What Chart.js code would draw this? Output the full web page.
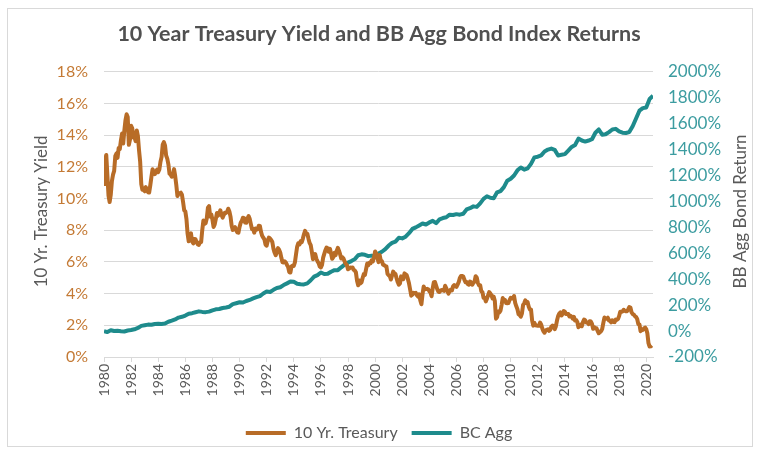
<!DOCTYPE html>
<html>
<head>
<meta charset="utf-8">
<script src="https://cdn.jsdelivr.net/npm/chart.js@4.4.1/dist/chart.umd.min.js"></script>
<style>
    html, body { margin: 0; padding: 0; background: #fff; }
    #wrap { position: relative; width: 758px; height: 451px; }
    #frame { position: absolute; left: 7px; top: 8px; width: 744px; height: 437px; border: 1px solid #d9d9d9; pointer-events: none; }
</style>
</head>
<body>
<div id="wrap">
    <canvas id="yieldChart"></canvas>
    <div id="frame"></div>
</div>
<script>
// chart text
const chartTitle = '10 Year Treasury Yield and BB Agg Bond Index Returns';
const seriesNames = ['10 Yr. Treasury', 'BC Agg'];
const leftAxisTitle = '10 Yr. Treasury Yield';
const rightAxisTitle = 'BB Agg Bond Return';

// first month of both series
const startYear = 1980;

// 10 yr treasury yield (%), monthly Jan 1980 - Jun 2020
const treasuryYield = [
    10.80, 12.41, 12.75, 11.47, 10.18, 9.78, 10.25, 11.10, 11.51, 11.75, 12.68, 12.84, // 1980
    12.57, 13.19, 13.12, 13.68, 14.10, 13.47, 14.28, 14.94, 15.32, 15.15, 13.39, 13.72, // 1981
    14.59, 14.43, 13.86, 13.87, 13.62, 14.30, 13.95, 13.06, 12.34, 10.91, 10.55, 10.54, // 1982
    10.46, 10.72, 10.51, 10.40, 10.38, 10.85, 11.38, 11.85, 11.65, 11.54, 11.69, 11.83, // 1983
    11.67, 11.84, 12.32, 12.63, 13.41, 13.56, 13.36, 12.72, 12.52, 12.16, 11.57, 11.50, // 1984
    11.38, 11.51, 11.86, 11.43, 10.85, 10.16, 10.31, 10.33, 10.37, 10.24, 9.78, 9.26,   // 1985
    9.19, 8.70, 7.78, 7.30, 7.71, 7.80, 7.30, 7.17, 7.45, 7.43, 7.25, 7.11,             // 1986
    7.08, 7.25, 7.25, 8.02, 8.61, 8.40, 8.45, 8.76, 9.42, 9.52, 8.86, 8.99,             // 1987
    8.67, 8.21, 8.37, 8.72, 9.09, 8.92, 9.06, 9.26, 8.98, 8.80, 8.96, 9.11,             // 1988
    9.09, 9.17, 9.36, 9.18, 8.86, 8.28, 8.02, 8.11, 8.19, 8.01, 7.87, 7.84,             // 1989
    8.21, 8.47, 8.59, 8.79, 8.76, 8.48, 8.47, 8.75, 8.89, 8.72, 8.39, 8.08,             // 1990
    8.09, 7.85, 8.11, 8.04, 8.07, 8.28, 8.27, 7.90, 7.65, 7.53, 7.42, 7.09,             // 1991
    7.03, 7.34, 7.54, 7.48, 7.39, 7.26, 6.84, 6.59, 6.42, 6.59, 6.87, 6.77,             // 1992
    6.60, 6.26, 5.98, 5.97, 6.04, 5.96, 5.81, 5.68, 5.36, 5.33, 5.72, 5.77,             // 1993
    5.75, 5.97, 6.48, 6.97, 7.18, 7.10, 7.30, 7.24, 7.46, 7.74, 7.96, 7.81,             // 1994
    7.78, 7.47, 7.20, 7.06, 6.63, 6.17, 6.28, 6.49, 6.20, 6.04, 5.93, 5.71,             // 1995
    5.65, 5.81, 6.27, 6.51, 6.74, 6.91, 6.87, 6.64, 6.83, 6.53, 6.20, 6.30,             // 1996
    6.58, 6.42, 6.69, 6.89, 6.71, 6.49, 6.22, 6.30, 6.21, 6.03, 5.88, 5.81,             // 1997
    5.54, 5.57, 5.65, 5.64, 5.65, 5.50, 5.46, 5.34, 4.81, 4.53, 4.83, 4.65,             // 1998
    4.72, 5.00, 5.23, 5.18, 5.54, 5.90, 5.79, 5.94, 5.92, 6.11, 6.03, 6.28,             // 1999
    6.66, 6.52, 6.26, 5.99, 6.44, 6.10, 6.05, 5.83, 5.80, 5.74, 5.72, 5.24,             // 2000
    5.16, 5.10, 4.89, 5.14, 5.39, 5.28, 5.24, 4.97, 4.73, 4.57, 4.65, 5.09,             // 2001
    5.04, 4.91, 5.28, 5.21, 5.16, 4.93, 4.65, 4.26, 3.87, 3.94, 4.05, 4.03,             // 2002
    4.05, 3.90, 3.81, 3.96, 3.57, 3.33, 3.98, 4.45, 4.27, 4.29, 4.30, 4.27,             // 2003
    4.15, 4.08, 3.83, 4.35, 4.72, 4.73, 4.50, 4.28, 4.13, 4.10, 4.19, 4.23,             // 2004
    4.22, 4.17, 4.50, 4.34, 4.14, 4.00, 4.18, 4.26, 4.20, 4.46, 4.54, 4.47,             // 2005
    4.42, 4.57, 4.72, 4.99, 5.11, 5.11, 5.09, 4.88, 4.72, 4.73, 4.60, 4.56,             // 2006
    4.76, 4.72, 4.56, 4.69, 4.75, 5.10, 5.00, 4.67, 4.52, 4.53, 4.15, 4.10,             // 2007
    3.74, 3.74, 3.51, 3.68, 3.88, 4.10, 4.01, 3.89, 3.69, 3.81, 3.53, 2.42,             // 2008
    2.52, 2.87, 2.82, 2.93, 3.29, 3.72, 3.56, 3.59, 3.40, 3.39, 3.40, 3.59,             // 2009
    3.73, 3.69, 3.73, 3.85, 3.42, 3.20, 3.01, 2.70, 2.65, 2.54, 2.76, 3.29,             // 2010
    3.39, 3.58, 3.41, 3.46, 3.17, 3.00, 3.00, 2.30, 1.98, 2.15, 2.01, 1.98,             // 2011
    1.97, 1.97, 2.17, 2.05, 1.80, 1.62, 1.53, 1.68, 1.72, 1.75, 1.65, 1.72,             // 2012
    1.91, 1.98, 1.96, 1.76, 1.93, 2.30, 2.58, 2.74, 2.81, 2.62, 2.72, 2.90,             // 2013
    2.86, 2.71, 2.72, 2.71, 2.56, 2.60, 2.54, 2.42, 2.53, 2.30, 2.33, 2.21,             // 2014
    1.88, 1.98, 2.04, 1.94, 2.20, 2.36, 2.32, 2.17, 2.17, 2.07, 2.26, 2.24,             // 2015
    2.09, 1.78, 1.89, 1.81, 1.81, 1.64, 1.50, 1.56, 1.63, 1.76, 2.14, 2.49,             // 2016
    2.43, 2.42, 2.48, 2.30, 2.30, 2.19, 2.32, 2.21, 2.20, 2.36, 2.35, 2.40,             // 2017
    2.58, 2.86, 2.84, 2.87, 2.98, 2.91, 2.89, 2.89, 3.00, 3.15, 3.12, 2.83,             // 2018
    2.71, 2.68, 2.57, 2.53, 2.40, 2.07, 2.06, 1.63, 1.70, 1.71, 1.81, 1.86,             // 2019
    1.76, 1.50, 0.87, 0.66, 0.67, 0.73                                                  // 2020
];

// BC Agg cumulative return (%), quarterly from 1980
const aggReturn = [
    0, -8, 6, 0,            // 1980
    2, -1, -3, 4,           // 1981
    8, 14, 24, 40,          // 1982
    45, 50, 49, 55,         // 1983
    57, 55, 58, 72,         // 1984
    80, 90, 104, 110,       // 1985
    120, 134, 138, 145,     // 1986
    152, 148, 146, 150,     // 1987
    160, 168, 170, 178,     // 1988
    182, 188, 208, 215,     // 1989
    222, 220, 232, 240,     // 1990
    252, 262, 270, 290,     // 1991
    305, 302, 318, 332,     // 1992
    338, 355, 368, 382,     // 1993
    380, 365, 362, 360,     // 1994
    368, 392, 420, 432,     // 1995
    452, 440, 442, 458,     // 1996
    470, 470, 492, 512,     // 1997
    528, 540, 555, 585,     // 1998
    592, 588, 578, 582,     // 1999
    580, 598, 612, 632,     // 2000
    660, 680, 690, 720,     // 2001
    715, 728, 755, 788,     // 2002
    800, 815, 830, 822,     // 2003
    838, 850, 832, 862,     // 2004
    872, 878, 898, 895,     // 2005
    902, 898, 905, 938,     // 2006
    948, 962, 958, 985,     // 2007
    1020, 1040, 1028, 1025, // 2008
    1070, 1080, 1110, 1160, // 2009
    1175, 1200, 1240, 1262, // 2010
    1245, 1255, 1290, 1340, // 2011
    1345, 1355, 1385, 1400, // 2012
    1408, 1398, 1355, 1360, // 2013
    1365, 1392, 1420, 1435, // 2014
    1485, 1470, 1462, 1470, // 2015
    1480, 1530, 1555, 1515, // 2016
    1518, 1535, 1555, 1560, // 2017
    1540, 1530, 1528, 1535, // 2018
    1580, 1640, 1700, 1720, // 2019
    1725, 1790, 1815        // 2020
];

const treasuryColor = '#B86C27';
const aggColor = '#1E8B8C';
const greyText = '#595959';
const gridColor = '#d9d9d9';

const treasuryPoints = treasuryYield.map((v, i) => ({ x: startYear + i / 12, y: v }));
const aggPoints = aggReturn.map((v, i) => ({ x: startYear + i / 4, y: v }));

// Excel draws both axis titles reading bottom-to-top
const axisTitlePlugin = {
    id: 'axisTitles',
    afterDraw(chart) {
        const { ctx, chartArea } = chart;
        const midY = (chartArea.top + chartArea.bottom) / 2 - 3;
        ctx.save();
        ctx.font = '17px Lato';
        ctx.fillStyle = greyText;
        ctx.textAlign = 'center';
        ctx.textBaseline = 'middle';
        [[42, leftAxisTitle], [741, rightAxisTitle]].forEach(([x, text]) => {
            ctx.save();
            ctx.translate(x, midY);
            ctx.rotate(-Math.PI / 2);
            ctx.fillText(text, 0, 0);
            ctx.restore();
        });
        ctx.restore();
    }
};

const ctx = document.getElementById('yieldChart').getContext('2d');
new Chart(ctx, {
    type: 'line',
    data: {
        datasets: [
            {
                label: seriesNames[0],
                data: treasuryPoints,
                yAxisID: 'yLeft',
                borderColor: treasuryColor,
                backgroundColor: treasuryColor,
                borderWidth: 4,
                pointRadius: 0,
                pointStyle: 'line',
                tension: 0,
                borderJoinStyle: 'round'
            },
            {
                label: seriesNames[1],
                data: aggPoints,
                yAxisID: 'yRight',
                borderColor: aggColor,
                backgroundColor: aggColor,
                borderWidth: 4,
                pointRadius: 0,
                pointStyle: 'line',
                tension: 0,
                borderJoinStyle: 'round'
            }
        ]
    },
    options: {
        responsive: true,
        maintainAspectRatio: false,
        animation: false,
        layout: { padding: { left: 0, right: 0, top: 0, bottom: 0 } },
        plugins: {
            title: {
                display: true,
                text: chartTitle,
                color: '#505050',
                font: { family: 'Lato', size: 21.5, weight: 'bold' },
                padding: { top: 21, bottom: 25 }
            },
            legend: {
                position: 'bottom',
                labels: {
                    usePointStyle: true,
                    pointStyleWidth: 40,
                    color: greyText,
                    font: { family: 'Lato', size: 16 },
                    padding: 14
                }
            },
            tooltip: { enabled: false }
        },
        scales: {
            x: {
                type: 'linear',
                min: startYear,
                max: 2020.5,
                afterFit(scale) { scale.height = 54; },
                border: { display: true, color: gridColor },
                grid: { drawOnChartArea: false, drawTicks: true, tickLength: 5, color: gridColor },
                ticks: {
                    stepSize: 2,
                    includeBounds: false,
                    minRotation: 90,
                    maxRotation: 90,
                    padding: 2,
                    color: greyText,
                    font: { family: 'Lato', size: 14 },
                    callback: (v) => String(v)
                }
            },
            yLeft: {
                position: 'left',
                min: 0,
                max: 18,
                afterFit(scale) { scale.width = 104; },
                border: { display: false },
                grid: { color: gridColor, drawTicks: false },
                ticks: {
                    stepSize: 2,
                    padding: 16,
                    color: '#C47A35',
                    font: { family: 'Lato', size: 16 },
                    callback: (v) => v + '%'
                }
            },
            yRight: {
                position: 'right',
                min: -200,
                max: 2000,
                afterFit(scale) { scale.width = 105; },
                border: { display: false },
                grid: { display: false, drawTicks: false },
                ticks: {
                    stepSize: 200,
                    padding: 15,
                    color: '#3C9CA0',
                    font: { family: 'Lato', size: 17 },
                    callback: (v) => v + '%'
                }
            }
        }
    },
    plugins: [axisTitlePlugin]
});
</script>
</body>
</html>
